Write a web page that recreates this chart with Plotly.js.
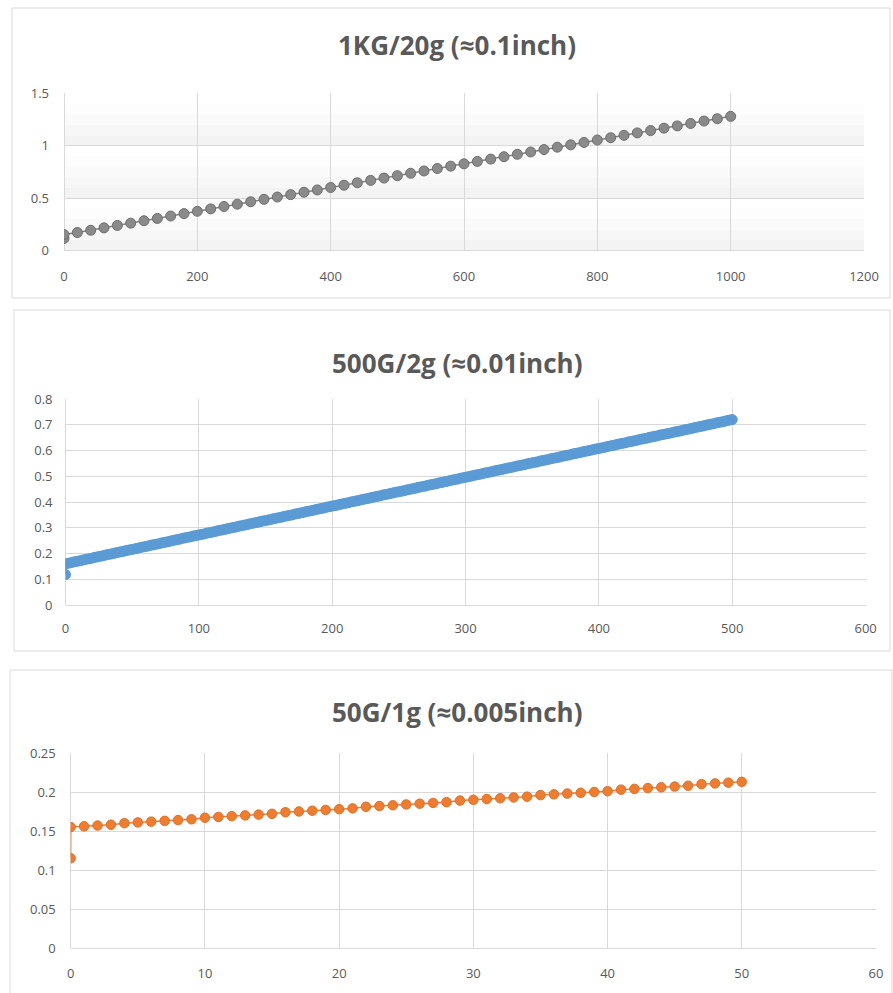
<!DOCTYPE html>
<html>
<head>
<meta charset="utf-8">
<script src="https://cdn.plot.ly/plotly-3.0.1.min.js"></script>
<style>
html,body{margin:0;padding:0;background:#fff;}
#chart{width:893px;height:993px;}
</style>
</head>
<body>
<div id="chart"></div>
<script>
// ---------- Chart titles ----------
const titles = ["1KG/20g (≈0.1inch)", "500G/2g (≈0.01inch)", "50G/1g (≈0.005inch)"];

// ---------- Chart 1: 1KG / 20g ----------
const x1 = [0,0,20,40,60,80,100,120,140,160,180,200,220,240,260,280,300,320,340,360,380,400,420,440,460,480,500,520,540,560,580,600,620,640,660,680,700,720,740,760,780,800,820,840,860,880,900,920,940,960,980,1000];
const y1 = [0.115,0.152,0.171,0.193,0.216,0.239,0.261,0.284,0.306,0.329,0.352,0.374,0.397,0.420,0.442,0.465,0.488,0.510,0.533,0.556,0.578,0.601,0.623,0.646,0.669,0.691,0.714,0.737,0.759,0.782,0.805,0.827,0.850,0.872,0.895,0.918,0.940,0.963,0.986,1.008,1.031,1.054,1.076,1.099,1.122,1.144,1.167,1.189,1.212,1.235,1.257,1.280];
const xTicks1 = [0,200,400,600,800,1000,1200];
const yTicks1 = [0,0.5,1,1.5];

// ---------- Chart 2: 500G / 2g ----------
const x2 = [0,0,2,4,6,8,10,12,14,16,18,20,22,24,26,28,30,32,34,36,38,40,42,44,46,48,50,52,54,56,58,60,62,64,66,68,70,72,74,76,78,80,82,84,86,88,90,92,94,96,98,100,
102,104,106,108,110,112,114,116,118,120,122,124,126,128,130,132,134,136,138,140,142,144,146,148,150,152,154,156,158,160,162,164,166,168,170,172,174,176,178,180,182,184,186,188,190,192,194,196,198,200,
202,204,206,208,210,212,214,216,218,220,222,224,226,228,230,232,234,236,238,240,242,244,246,248,250,252,254,256,258,260,262,264,266,268,270,272,274,276,278,280,282,284,286,288,290,292,294,296,298,300,
302,304,306,308,310,312,314,316,318,320,322,324,326,328,330,332,334,336,338,340,342,344,346,348,350,352,354,356,358,360,362,364,366,368,370,372,374,376,378,380,382,384,386,388,390,392,394,396,398,400,
402,404,406,408,410,412,414,416,418,420,422,424,426,428,430,432,434,436,438,440,442,444,446,448,450,452,454,456,458,460,462,464,466,468,470,472,474,476,478,480,482,484,486,488,490,492,494,496,498,500];
const y2 = [0.118,0.160,0.162,0.164,0.167,0.169,0.171,0.173,0.176,0.178,0.180,0.182,0.185,0.187,0.189,0.191,0.194,0.196,0.198,0.200,0.203,0.205,0.207,0.209,0.212,0.214,0.216,0.218,0.220,0.223,0.225,0.227,0.229,0.232,0.234,0.236,0.238,0.241,0.243,0.245,0.247,0.250,0.252,0.254,0.256,0.259,0.261,0.263,0.265,0.268,0.270,0.272,
0.274,0.276,0.279,0.281,0.283,0.285,0.288,0.290,0.292,0.294,0.297,0.299,0.301,0.303,0.306,0.308,0.310,0.312,0.315,0.317,0.319,0.321,0.324,0.326,0.328,0.330,0.332,0.335,0.337,0.339,0.341,0.344,0.346,0.348,0.350,0.353,0.355,0.357,0.359,0.362,0.364,0.366,0.368,0.371,0.373,0.375,0.377,0.380,0.382,0.384,
0.386,0.388,0.391,0.393,0.395,0.397,0.400,0.402,0.404,0.406,0.409,0.411,0.413,0.415,0.418,0.420,0.422,0.424,0.427,0.429,0.431,0.433,0.436,0.438,0.440,0.442,0.444,0.447,0.449,0.451,0.453,0.456,0.458,0.460,0.462,0.465,0.467,0.469,0.471,0.474,0.476,0.478,0.480,0.483,0.485,0.487,0.489,0.492,0.494,0.496,
0.498,0.500,0.503,0.505,0.507,0.509,0.512,0.514,0.516,0.518,0.521,0.523,0.525,0.527,0.530,0.532,0.534,0.536,0.539,0.541,0.543,0.545,0.548,0.550,0.552,0.554,0.556,0.559,0.561,0.563,0.565,0.568,0.570,0.572,0.574,0.577,0.579,0.581,0.583,0.586,0.588,0.590,0.592,0.595,0.597,0.599,0.601,0.604,0.606,0.608,
0.610,0.612,0.615,0.617,0.619,0.621,0.624,0.626,0.628,0.630,0.633,0.635,0.637,0.639,0.642,0.644,0.646,0.648,0.651,0.653,0.655,0.657,0.660,0.662,0.664,0.666,0.668,0.671,0.673,0.675,0.677,0.680,0.682,0.684,0.686,0.689,0.691,0.693,0.695,0.698,0.700,0.702,0.704,0.707,0.709,0.711,0.713,0.716,0.718,0.720];
const xTicks2 = [0,100,200,300,400,500,600];
const yTicks2 = [0,0.1,0.2,0.3,0.4,0.5,0.6,0.7,0.8];

// ---------- Chart 3: 50G / 1g ----------
const x3 = [0,0,1,2,3,4,5,6,7,8,9,10,11,12,13,14,15,16,17,18,19,20,21,22,23,24,25,26,27,28,29,30,31,32,33,34,35,36,37,38,39,40,41,42,43,44,45,46,47,48,49,50];
const y3 = [0.115,0.155,0.156,0.157,0.158,0.160,0.161,0.162,0.163,0.164,0.165,0.167,0.168,0.169,0.170,0.171,0.172,0.174,0.175,0.176,0.177,0.178,0.179,0.181,0.182,0.183,0.184,0.185,0.186,0.187,0.189,0.190,0.191,0.192,0.193,0.194,0.196,0.197,0.198,0.199,0.200,0.201,0.203,0.204,0.205,0.206,0.207,0.208,0.210,0.211,0.212,0.213];
const xTicks3 = [0,10,20,30,40,50,60];
const yTicks3 = [0,0.05,0.1,0.15,0.2,0.25];

// ---------- Styling ----------
const W = 893, H = 993;
const px = v => v / W;
const py = v => 1 - v / H;
const tickFont = {family: "Open Sans, Liberation Sans, sans-serif", size: 13, color: "#595959"};
const gridC = "#d9d9d9";

function axisX(domain, range, ticks, anchor, standoff) {
  return {domain: domain, range: range, tickvals: ticks, ticktext: ticks.map(String),
    showgrid: true, gridcolor: gridC, gridwidth: 1, zeroline: true, zerolinecolor: gridC,
    showline: false, ticks: "", tickfont: tickFont, anchor: anchor, ticklabelstandoff: standoff, fixedrange: true};
}
function axisY(domain, range, ticks, anchor, standoff) {
  return {domain: domain, range: range, tickvals: ticks, ticktext: ticks.map(String),
    showgrid: true, gridcolor: gridC, gridwidth: 1, zeroline: true, zerolinecolor: gridC,
    showline: false, ticks: "", tickfont: tickFont, anchor: anchor, ticklabelstandoff: standoff, fixedrange: true};
}

const traces = [
  {x: x1, y: y1, xaxis: "x", yaxis: "y", type: "scatter", mode: "lines+markers",
   line: {color: "#7f7f7f", width: 1.5},
   marker: {color: "#8a8a8a", size: 10, line: {color: "#6e6e6e", width: 1}}},
  {x: x2, y: y2, xaxis: "x2", yaxis: "y2", type: "scatter", mode: "lines+markers",
   line: {color: "#5b9bd5", width: 1.5},
   marker: {color: "#5b9bd5", size: 10, line: {color: "#5b9bd5", width: 1}}},
  {x: x3, y: y3, xaxis: "x3", yaxis: "y3", type: "scatter", mode: "lines+markers",
   line: {color: "#ed7d31", width: 1.5},
   marker: {color: "#ed7d31", size: 9.5, line: {color: "#e07028", width: 1}}}
];

// Plot-area gradient bands for chart 1 (between y gridlines)
const shapes = [];
const bandShades = ["#ffffff", "#fdfdfd", "#fafafa", "#f7f7f7", "#f3f3f3"];
for (let i = 0; i < yTicks1.length - 1; i++) {
  const lo = yTicks1[i], hi = yTicks1[i + 1];
  const n = bandShades.length;
  for (let k = 0; k < n; k++) {
    shapes.push({type: "rect", xref: "x domain", yref: "y", layer: "below",
      x0: 0, x1: 1, y1: hi - (hi - lo) * k / n, y0: hi - (hi - lo) * (k + 1) / n,
      fillcolor: bandShades[k], line: {width: 0}});
  }
}
// chart frames
const frames = [[12, 8, 890, 298], [14, 310, 890, 651], [10, 670, 892, 1000]];
frames.forEach(f => shapes.push({type: "rect", xref: "paper", yref: "paper",
  x0: px(f[0]), x1: px(f[2]), y0: py(f[3]), y1: py(f[1]),
  line: {color: "#d9d9d9", width: 1}, fillcolor: "rgba(0,0,0,0)", layer: "below"}));

const titleY = [45, 363, 712];
const annotations = titles.map((t, i) => ({
  text: t, xref: "paper", yref: "paper", x: px(457), y: py(titleY[i]),
  xanchor: "center", yanchor: "middle", showarrow: false,
  font: {family: "Open Sans, Noto Sans, sans-serif", size: 26, color: "#595959", weight: 700}
}));

const layout = {
  width: W, height: H, margin: {l: 0, r: 0, t: 0, b: 0},
  paper_bgcolor: "#ffffff", plot_bgcolor: "rgba(0,0,0,0)", showlegend: false, hovermode: false,
  xaxis: axisX([px(64), px(864)], [0, 1200], xTicks1, "y", 16),
  yaxis: axisY([py(250.5), py(93.3)], [0, 1.5], yTicks1, "x", 14),
  xaxis2: axisX([px(65.5), px(865.6)], [0, 600], xTicks2, "y2", 14),
  yaxis2: axisY([py(605), py(399)], [0, 0.8], yTicks2, "x2", 12),
  xaxis3: axisX([px(70.7), px(876)], [0, 60], xTicks3, "y3", 16),
  yaxis3: axisY([py(948), py(753)], [0, 0.25], yTicks3, "x3", 14),
  shapes: shapes, annotations: annotations
};

Plotly.newPlot("chart", traces, layout, {staticPlot: true, displayModeBar: false});
</script>
</body>
</html>
